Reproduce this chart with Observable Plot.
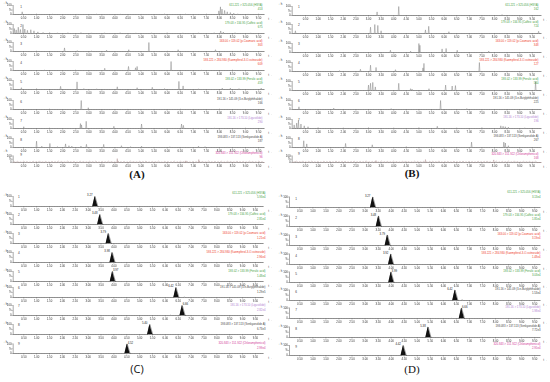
<!DOCTYPE html>
<html><head><meta charset="utf-8">
<script src="https://cdn.jsdelivr.net/npm/d3@7"></script>
<script src="https://cdn.jsdelivr.net/npm/@observablehq/plot@0.6"></script>
<style>
html,body{margin:0;padding:0;background:#fff;}
#fig{position:relative;width:550px;height:382px;overflow:hidden;font-family:"Liberation Sans",Arial,sans-serif;}
.plab{position:absolute;font-size:11px;transform:translate(-50%,-50%);white-space:nowrap;color:#111;line-height:11px;}
#fig g[aria-label="x-axis tick label"], #fig g[aria-label="y-axis tick label"] {filter:grayscale(1);}
</style></head><body><div id="fig"></div>
<script>
// ---------- data ----------
const compounds = ["HSYA","Caffeic acid","p-Coumaric acid","Kaempferol-3-O-rutinoside","Ferulic acid","3-n-Butylphthalide","Ligustilide","Senkyunolide A","Chloramphenicol"];
const transitions = ["611.221 > 325.056","179.03 > 134.95","163.00 > 119.02","593.221 > 284.930","193.02 > 133.99","191.16 > 145.09","191.16 > 173.10","193.083 > 137.113","320.843 > 151.922"];
const rowNumbers = ["1","2","3","4","5","6","7","8","9"];
const headerColors = ["#44a044","#44a044","#ee3b2b","#ee3b2b","#44a044","#444444","#b080d0","#444444","#d23c9a"];
const timeTickLabels = ["0.50","1.00","1.50","2.00","2.50","3.00","3.50","4.00","4.50","5.00","5.50","6.00","6.50","7.00","7.50","8.00","8.50","9.00","9.50"];
const yTickValues = [0, 50, 100];
const yTickLabels = ["0", "%", "100"];

const intensityA = ["453","675","363","609","459","166","290","187","96"];
const intensityB = ["162","724","348","127","560","225","196","267","168"];
const intensityC = ["5.93e4","2.85e4","1.21e4","2.96e4","1.48e4","1.29e5","2.82e4","6.73e3","2.99e4"];
const intensityD = ["3.13e4","1.85e4","3.19e4","1.48e4","3.03e4","1.53e4","1.98e4","7.72e3","2.95e4"];

// blank-type traces: [time, % height]
const spikesA = [
  [[0.45,30],[1.0,5],[1.6,4],[2.55,6],[3.3,4],[4.2,5],[5.0,4],[5.9,5],[6.7,4],[7.5,5],[7.98,40],[8.04,85],[8.1,60],[8.2,45],[8.3,30],[8.42,22],[8.55,15],[8.7,8],[9.1,6],[9.5,4]],
  [[0.15,55],[0.22,40],[0.3,70],[0.38,45],[0.48,100],[0.55,50],[0.65,35],[0.78,42],[0.9,30],[1.05,18],[1.25,12],[1.5,10],[1.8,8],[2.2,9],[2.7,10],[3.1,7],[3.6,8],[4.2,9],[4.8,7],[5.4,8],[6.0,9],[6.6,7],[7.2,8],[7.8,9],[8.05,28],[8.15,16],[8.6,9],[9.2,7]],
  [[1.0,4],[2.07,40],[2.56,10],[3.1,5],[3.68,15],[4.53,20],[5.30,100],[6.0,5],[6.42,20],[7.85,20],[8.8,4]],
  [[1.3,4],[2.5,5],[3.61,25],[4.52,45],[4.79,30],[4.85,45],[6.15,100],[7.3,5],[8.5,4]],
  [[0.42,20],[1.0,10],[1.92,35],[2.55,85],[2.81,10],[3.3,8],[4.09,30],[4.85,20],[5.43,25],[5.9,10],[6.45,90],[6.61,40],[7.2,8],[8.11,15],[8.42,15],[8.75,10],[9.6,15]],
  [[1.5,4],[2.71,100],[2.98,20],[4.5,4],[6.5,4],[8.0,4]],
  [[0.51,20],[1.5,4],[2.68,55],[2.72,40],[2.90,80],[3.96,25],[5.02,50],[6.55,50],[6.62,35],[7.8,5],[9.0,4]],
  [[1.0,70],[1.2,15],[1.51,45],[1.8,10],[2.11,40],[2.24,20],[2.35,15],[2.7,15],[2.91,35],[3.57,35],[4.25,20],[4.6,10],[5.02,15],[6.1,8],[7.2,15],[7.45,10],[8.3,6]],
  [[4.09,60],[6.7,25],[7.21,45]]
];
const spikesB = [
  [[1.5,4],[3.34,40],[4.2,100],[6.0,4],[8.3,10]],
  [[0.1,30],[3.08,70],[3.25,100],[3.37,90],[3.5,30],[5.26,40],[5.39,80],[6.19,20],[9.75,25]],
  [[3.87,25],[4.67,15],[5.0,100],[5.04,80],[5.92,40],[6.08,45],[6.52,25],[7.77,15]],
  [[1.85,10],[2.68,25],[3.08,70],[3.3,45],[4.07,20],[5.16,40],[5.2,90],[7.4,100]],
  [[3.0,60],[3.08,80],[3.17,90],[3.27,40],[4.2,80],[4.67,20],[4.73,15],[5.4,20],[6.06,60],[6.32,50],[6.45,55],[9.63,100]],
  [[0.24,30],[1.62,15],[3.9,10],[5.86,100],[6.9,10]],
  [[0.05,40],[0.15,60],[0.22,90],[0.32,50],[0.45,30],[0.6,20],[1.0,10],[2.0,8],[3.0,10],[4.0,8],[5.0,10],[5.73,25],[6.5,8],[7.5,10],[8.25,30],[8.34,25],[8.43,20],[8.55,15],[9.2,8]],
  [[0.43,75],[0.55,40],[2.09,45],[3.15,30],[4.5,10],[7.09,60],[8.37,60],[8.43,50],[8.55,20]],
  [[3.3,30],[5.26,45],[7.97,40]]
];
// baseline noise of trace 9 (A and B), % height every noiseStep minutes from noiseStart
const noiseStart = 0.15, noiseStep = 0.12;
const noiseA9 = [12,18,9,22,15,8,20,14,25,11,17,9,19,13,22,16,10,24,12,18,8,21,15,11,19,14,23,9,17,12,20,15,10,26,13,18,9,22,14,11,19,16,24,10,17,13,21,8,18,15,12,22,11,19,14,25,9,17,13,20,16,10,23,12,18,14,21,9,19,15,11,24,13,17,10,20,16,12,22,14];
const noiseB9 = [20,14,25,10,18,22,12,16,9,21,15,19,11,24,13,17,20,10,15,22,12,18,14,26,11,16,19,9,23,13,17,12,21,15,10,18,24,14,11,20,16,12,22,9,17,19,13,25,11,15,18,10,21,14,16,23,12,19,15,10,20,13,17,24,11,16,22,9,18,14,21,12,25,15,10,19,13,17,11,20];

// standard / sample peaks
const peakRtC = [3.27,3.46,3.79,3.94,3.95,6.42,6.66,5.40,4.52];
const peakLabelC = ["3.27","3.48","3.79","3.98","3.97","6.42","6.66","5.40","4.52"];
const peakSideC = ["left","left","left","left","right","left","right","left","right"];
const peakRtD = [3.30,3.52,3.86,3.99,4.00,6.45,6.70,5.42,4.47];
const peakLabelD = ["3.27","3.48","3.79","3.92","3.99","6.42","6.66","5.38","4.42"];
const peakSideD = ["left","left","left","left","right","left","right","left","left"];
const peakHeight = [100,100,100,100,100,100,100,100,100];
const bumpsC = [[],[],[],[],[],[[6.74,8]],[[6.2,4]],[],[]];
const bumpsD = [[],[],[],[],[],[[6.72,10]],[[6.3,4]],[],[]];
const panelLetters = ["(A)","(B)","(C)","(D)"];

// ---------- layout ----------
const panels = [
  {ox:0,   t0:9.94,  ppu:26.12, a0:12.7, a1:264, hY:9,  hYLast:6.5, base:[14,32.5,51,70,88.5,108.5,127.5,146.5,162], headDy1:-9.3, headDy:-10.8, headDyLast:-9.1, headRight:262, numX:20.7, numDy:-7.3,
   intens:intensityA, spikes:spikesA, noise:noiseA9, letter:{x:137,y:174,font:"'Liberation Serif',serif",weight:"bold"}},
  {ox:275, t0:17.4,  ppu:25.2,  a0:16.7, a1:266, hY:9,  hYLast:6.5, base:[14.7,33.3,51.7,71,90,109.3,128.3,146.7,161.7], headDy1:-10.7, headDy:-11.6, headDyLast:-8.7, headRight:263, numX:23.3, numDy:-8.7,
   intens:intensityB, spikes:spikesB, noise:noiseB9, letter:{x:412,y:172.5,font:"'Liberation Serif',serif",weight:"bold"}},
  {ox:0,   t0:10.4,  ppu:25.74, a0:12.7, a1:263, hY:10, hYLast:9.5, base:[205.5,224,243,262,280.5,297,315,333.5,353], headDy1:-13.8, headDy:-10, headDyLast:-10, headRight:265, numX:18.3, numDy:-9.5,
   intens:intensityC, rt:peakRtC, pl:peakLabelC, side:peakSideC, bumps:bumpsC, letter:{x:137,y:368,font:"'Open Sans',sans-serif",weight:"normal"}},
  {ox:275, t0:11.25, ppu:26.1,  a0:14,   a1:265, hY:10.5, hYLast:10, base:[207.3,226,245,264,282,300,318.3,336.7,355.3], headDy1:-15, headDy:-11.5, headDyLast:-11.5, headRight:265, numX:20.7, numDy:-9,
   intens:intensityD, rt:peakRtD, pl:peakLabelD, side:peakSideD, bumps:bumpsD, letter:{x:412,y:369,font:"'Liberation Serif',serif",weight:"normal"}}
];

const fig = document.getElementById("fig");
const FS = 2.8;          // tiny MassLynx font
const TOP = 16;          // baseline position inside each strip svg
const H = 24;
const spikeHalf = 0.02;
const tickVals = timeTickLabels.map(Number);
const tickMap = new Map(tickVals.map((v, i) => [v, timeTickLabels[i]]));
const yMap = new Map(yTickValues.map((v, i) => [v, yTickLabels[i]]));

function tracePoints(spikes, noise, t0, t1) {
  const pts = [{t: t0, h: 0}, {t: t1, h: 0}];
  for (const [t, h] of spikes) pts.push({t: t - spikeHalf, h: 0}, {t, h}, {t: t + spikeHalf, h: 0});
  if (noise) noise.forEach((h, i) => { const t = noiseStart + i * noiseStep; pts.push({t, h}, {t: t + noiseStep / 2, h: 0}); });
  return pts.filter(p => p.t >= t0 && p.t <= t1).sort((a, b) => a.t - b.t);
}

panels.forEach((P, pi) => {
  const tStart = (P.a0 - P.t0) / P.ppu, tEnd = (P.a1 - P.t0) / P.ppu;
  const minor = d3.range(Math.ceil(tStart * 10), Math.floor(tEnd * 10) + 1).map(k => k / 10).filter(v => Math.abs(v * 2 - Math.round(v * 2)) > 1e-6);
  for (let r = 0; r < 9; r++) {
    const hY = r === 8 ? P.hYLast : P.hY;
    const unitPx = 100 / hY;
    const isPeak = !!P.rt;
    const trace = isPeak ? tracePoints(P.bumps[r], null, tStart, tEnd)
                         : tracePoints(P.spikes[r], r === 8 ? P.noise : null, tStart, tEnd);
    const traceColor = (!isPeak && r === 8) ? "#a88a8a" : "#707070";
    const marks = [
      Plot.ruleY([0], {stroke: "#555", strokeWidth: 0.5}),
      Plot.ruleX([tStart], {stroke: "#555", strokeWidth: 0.5}),
      Plot.ruleX(minor, {x: d => d, y1: 0, y2: -0.8 * unitPx, stroke: "#777", strokeWidth: 0.3}),
      Plot.axisX({ticks: tickVals, tickFormat: d => tickMap.get(d), tickSize: 1.6, tickPadding: 0.5, fontSize: FS, stroke: "#555", strokeWidth: 0.4, fill: "#333"}),
      Plot.axisY({ticks: yTickValues, tickFormat: d => yMap.get(d), tickSize: 1.2, tickPadding: 0.5, fontSize: FS, stroke: "#555", strokeWidth: 0.4, fill: "#333"}),
      Plot.line(trace, {x: "t", y: "h", stroke: traceColor, strokeWidth: 0.42})
    ];
    if (isPeak) {
      const rt = P.rt[r], ph = peakHeight[r];
      const pk = [{t: rt - 0.09, h: 0}, {t: rt, h: ph}, {t: rt + 0.11, h: 0}];
      marks.push(Plot.areaY(pk, {x: "t", y: "h", fill: "#111"}));
      marks.push(Plot.line(pk, {x: "t", y: "h", stroke: "#111", strokeWidth: 0.4}));
      const left = P.side[r] === "left";
      marks.push(Plot.text([{t: rt, h: ph, s: P.pl[r]}], {x: "t", y: "h", text: "s", fontSize: FS, fill: "#222",
        textAnchor: left ? "end" : "start", dx: left ? -2.5 : 0.4, dy: -1.2, lineAnchor: "middle"}));
    }
    // row number
    marks.push(Plot.text([rowNumbers[r]], {text: d => d, frameAnchor: "top-left", dx: P.numX - P.a0, dy: P.numDy + hY, fontSize: FS + 0.3, fill: "#333", lineAnchor: "middle", textAnchor: "middle"}));
    // header (transition + compound, intensity)
    const hdx = P.headRight - P.a1;
    const hd = r === 0 ? P.headDy1 : r === 8 ? P.headDyLast : P.headDy;
    marks.push(Plot.text([`${transitions[r]} (${compounds[r]})`], {text: d => d, frameAnchor: "top-right", dx: hdx, dy: hd + hY, fontSize: FS, fill: headerColors[r], textAnchor: "end", lineAnchor: "middle"}));
    marks.push(Plot.text([P.intens[r]], {text: d => d, frameAnchor: "top-right", dx: hdx, dy: hd + hY + 4.1, fontSize: FS, fill: headerColors[r], textAnchor: "end", lineAnchor: "middle"}));

    const svg = Plot.plot({
      width: 275, height: H,
      marginLeft: P.a0, marginRight: 275 - P.a1, marginTop: TOP - hY, marginBottom: H - TOP,
      x: {domain: [tStart, tEnd]},
      y: {domain: [0, 100]},
      style: {overflow: "visible", background: "transparent", fontFamily: "'Liberation Sans', Arial, sans-serif"},
      marks
    });
    svg.style.position = "absolute";
    svg.style.left = P.ox + "px";
    svg.style.top = (P.base[r] - TOP) + "px";
    svg.style.maxWidth = "none";
    fig.appendChild(svg);
  }
  const lab = document.createElement("div");
  lab.className = "plab";
  lab.textContent = panelLetters[pi];
  lab.style.left = P.letter.x + "px";
  lab.style.top = P.letter.y + "px";
  lab.style.fontFamily = P.letter.font;
  lab.style.fontWeight = P.letter.weight;
  fig.appendChild(lab);
});
</script></body></html>
